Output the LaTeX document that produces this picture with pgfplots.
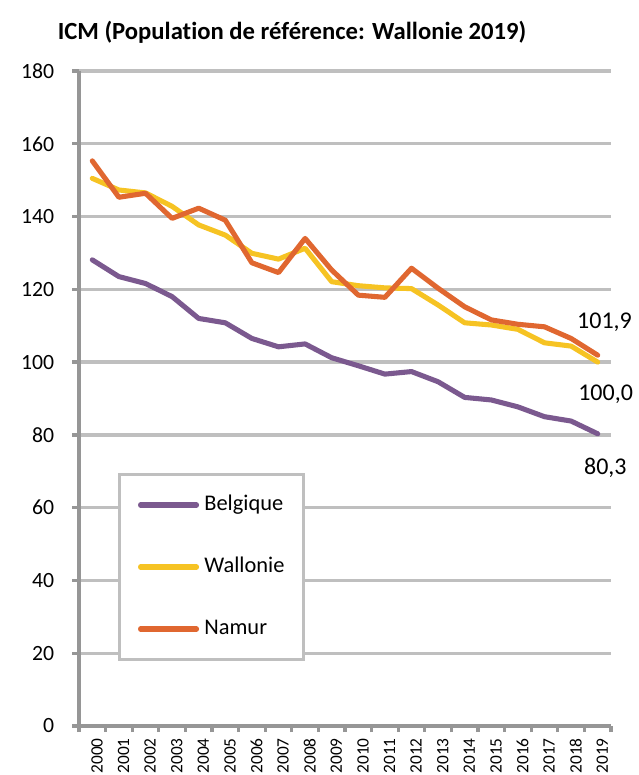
\documentclass[border=0pt]{standalone}
\usepackage{fontspec}
\setmainfont{Carlito}[Ligatures=NoCommon]
\usepackage{pgfplots}
\pgfplotsset{compat=1.18}
\definecolor{belg}{RGB}{123,89,143}
\definecolor{wall}{RGB}{246,195,35}
\definecolor{namu}{RGB}{224,103,48}
\definecolor{gridc}{RGB}{191,191,191}
\definecolor{axc}{RGB}{150,150,150}
\begin{document}
\begin{tikzpicture}
\useasboundingbox (0,0) rectangle (479.25pt,581.25pt);
\node[anchor=base, font=\fontsize{18.5}{21}\selectfont\bfseries, inner sep=0pt] at (219pt,551.25pt) {ICM (Population de référence: Wallonie 2019)};
\begin{axis}[
  at={(59.25pt,36.75pt)}, anchor=south west,
  scale only axis, width=399pt, height=491.25pt,
  xmin=-0.5, xmax=19.5, ymin=0, ymax=180,
  axis x line*=bottom, axis y line*=left,
  axis line style={draw=axc, line width=2.5pt},
  ytick={0,20,...,180},
  ymajorgrids, grid style={draw=gridc, line width=2.5pt},
  xtick={0,...,19},
  xticklabels={2000,2001,2002,2003,2004,2005,2006,2007,2008,2009,2010,2011,2012,2013,2014,2015,2016,2017,2018,2019},
  minor xtick={-0.5,0.5,...,19.5},
  tick align=outside,
  major tick length=5pt, minor tick length=4.5pt,
  tick style={draw=axc, line width=2.5pt},
  major x tick style={draw=none},
  x tick label style={xshift=3.5pt, yshift=-4pt, rotate=90, anchor=east, inner sep=0pt, font=\fontsize{13}{15}\selectfont},
  y tick label style={anchor=east, inner sep=0pt, xshift=-13.5pt, font=\fontsize{16.3}{19}\selectfont},
  /pgf/number format/assume math mode=true,
  clip=false,
  legend cell align=left,
  legend style={at={(0.073,0.3863)}, anchor=north west, draw=gridc, line width=2.25pt,
    font=\fontsize{16.8}{20}\selectfont, inner xsep=14pt, inner ysep=14.9pt,
    row sep=30.5pt, column sep=4pt,
    nodes={inner sep=0pt, text height=12pt, text depth=4pt}},
  legend image code/.code={\draw[#1, line cap=round] (0pt,0pt) -- (42pt,0pt);},
  every axis plot/.append style={line width=3.8pt, line join=round, line cap=round, no markers},
]
\addplot[belg] coordinates {(0,128.1) (1,123.5) (2,121.6) (3,118.0) (4,112.0) (5,110.8) (6,106.5) (7,104.2) (8,105.0) (9,101.2) (10,99.0) (11,96.7) (12,97.4) (13,94.6) (14,90.3) (15,89.6) (16,87.7) (17,85.0) (18,83.8) (19,80.3)};
\addlegendentry{Belgique}
\addplot[wall] coordinates {(0,150.5) (1,147.3) (2,146.5) (3,142.8) (4,137.7) (5,134.9) (6,129.9) (7,128.3) (8,131.3) (9,122.1) (10,121.0) (11,120.4) (12,120.2) (13,115.7) (14,110.8) (15,110.2) (16,109.0) (17,105.3) (18,104.4) (19,100.0)};
\addlegendentry{Wallonie}
\addplot[namu] coordinates {(0,155.3) (1,145.3) (2,146.4) (3,139.5) (4,142.3) (5,139.0) (6,127.3) (7,124.6) (8,134.0) (9,125.3) (10,118.4) (11,117.8) (12,125.8) (13,120.3) (14,115.2) (15,111.6) (16,110.4) (17,109.7) (18,106.5) (19,101.9)};
\addlegendentry{Namur}
\node[anchor=base west, inner sep=0pt, font=\fontsize{18}{20}\selectfont] at (axis cs:18.22,109.1) {101,9};
\node[anchor=base west, inner sep=0pt, font=\fontsize{18}{20}\selectfont] at (axis cs:18.26,89.4) {100,0};
\node[anchor=base west, inner sep=0pt, font=\fontsize{18}{20}\selectfont] at (axis cs:18.48,69.0) {80,3};
\end{axis}
\end{tikzpicture}
\end{document}
